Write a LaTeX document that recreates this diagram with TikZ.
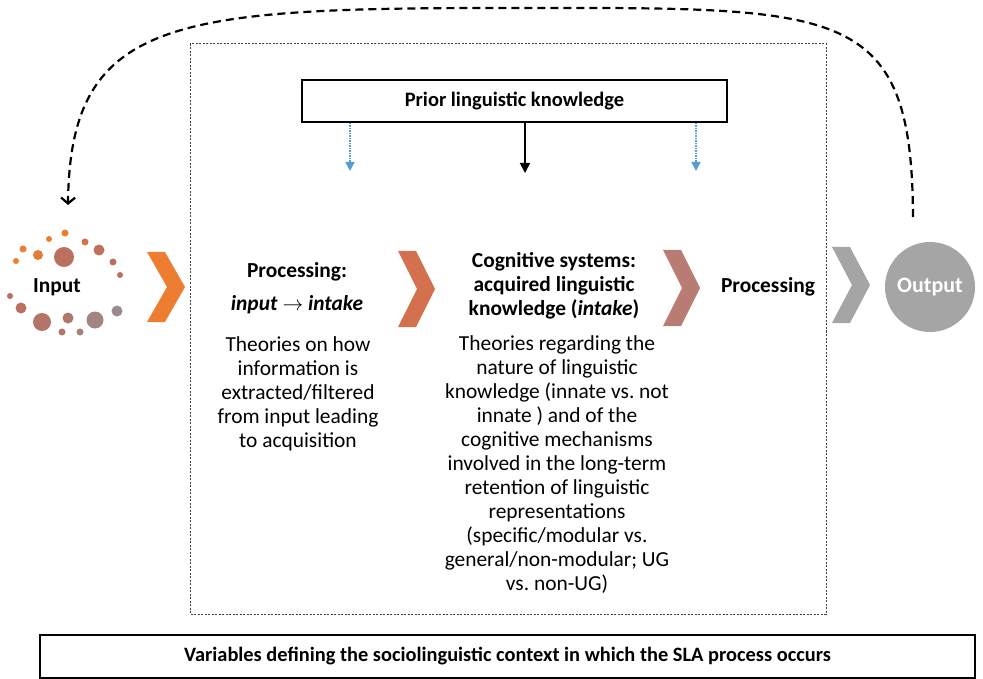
\documentclass[tikz,border=0pt]{standalone}
\usepackage{fontspec}
\setmainfont{Carlito}
\usetikzlibrary{arrows.meta}
\definecolor{inorange}{HTML}{ED7D31}
\definecolor{chevtwo}{HTML}{D3714F}
\definecolor{chevthree}{HTML}{B87C74}
\definecolor{chevgray}{HTML}{A5A5A5}
\definecolor{dotbrown}{HTML}{B9705F}
\definecolor{dotmauve}{HTML}{A08585}
\definecolor{dotgray}{HTML}{9C8A8C}
\definecolor{bluearrow}{HTML}{5B9BD5}
\newcommand\mychev[5]{\fill[#5] (#1,#3) -- (#1+18,#3) -- (#2,{(#3+#4)/2}) -- (#1+18,#4) -- (#1,#4) -- (#2-18,{(#3+#4)/2}) -- cycle;}
\frenchspacing
\begin{document}
\begin{tikzpicture}[x=1pt,y=-1pt,
  bodytext/.style={font=\fontsize{21.4}{24}\selectfont, align=center, inner sep=0pt},
  titletext/.style={font=\fontsize{21.4}{24}\selectfont\bfseries, align=center, inner sep=0pt},
  framebox/.style={draw=black, line width=1.6pt, inner sep=0pt},
  bluearr/.style={draw=bluearrow, line width=1.5pt, dash pattern=on 1.5pt off 1pt, -{Triangle[length=9pt,width=9pt,fill=bluearrow]}},
  blackarr/.style={draw=black, line width=1.8pt, -{Triangle[length=10pt,width=10pt]}},
  feedback/.style={draw=black, line width=2.2pt, dash pattern=on 8pt off 5pt, -{Straight Barb[length=6pt,width=14pt]}}
]
\useasboundingbox (0,0) rectangle (983,679);

% dotted outer frame
\draw[black!75, line width=1pt, dash pattern=on 2pt off 1.5pt] (190,44) rectangle (826,614);

% prior knowledge box
\node[framebox, minimum width=425pt, minimum height=42pt, font=\fontsize{20.5}{24}\selectfont\bfseries] (prior) at (514.5,101) {Prior linguistic knowledge};
\coordinate (bl) at (350,171);
\coordinate (br) at (696,171);
\coordinate (bk) at (525,173);
\draw[bluearr] (prior.south -| bl) -- (bl);
\draw[bluearr] (prior.south -| br) -- (br);
\draw[blackarr] (prior.south -| bk) -- (bk);

% input dots
\fill[inorange] (65,233) circle (3.5pt);
\fill[inorange] (49,239) circle (3pt);
\fill[chevtwo] (85,242) circle (3.5pt);
\fill[inorange] (23,249) circle (3.5pt);
\fill[inorange!85!dotbrown] (38,255) circle (5pt);
\fill[dotbrown] (64,257) circle (10pt);
\fill[dotbrown!90!inorange] (99,250) circle (5.5pt);
\fill[inorange] (16,261) circle (3pt);
\fill[dotbrown] (113,262) circle (3.5pt);
\fill[dotbrown] (120,275) circle (3pt);
\fill[dotbrown] (10,296) circle (3pt);
\fill[dotbrown] (21,308) circle (5.5pt);
\fill[dotbrown!80!dotgray] (42,322) circle (9pt);
\fill[dotbrown!70!dotgray] (68,318) circle (5.5pt);
\fill[dotgray!80!dotbrown] (95,320) circle (8.5pt);
\fill[dotgray] (117,311) circle (5.5pt);
\fill[dotbrown!80!dotgray] (62,332) circle (3.5pt);
\fill[dotgray!60!dotbrown] (80,332) circle (3.5pt);
\node[titletext] (input) at (57,287) {Input};

% chevrons
\mychev{147}{185}{252}{322}{inorange}
\mychev{398}{435}{251}{327}{chevtwo}
\mychev{663}{700}{250}{326}{chevthree}
\mychev{832}{870}{247}{323}{chevgray}

% output
\node[circle, fill=chevgray, minimum size=90pt, inner sep=0pt, text=white, font=\fontsize{22}{24}\selectfont\bfseries] (output) at (930,287) {Output};

% processing column
\node[titletext] (proctitle) at (297,272) {Processing:};
\node[titletext] (procio) at (297,305) {\textit{input} $\rightarrow$ \textit{intake}};
\node[bodytext] (procbody) at (298,394) {Theories on how\\information is\\extracted/filtered\\from input leading\\to acquisition};

% cognitive column
\node[titletext] (cogtitle) at (554,286) {Cognitive systems:\\acquired linguistic\\knowledge (\textit{intake})};
\node[bodytext] (cogbody) at (557,465) {Theories regarding the\\nature of linguistic\\knowledge (innate vs. not\\innate ) and of the\\cognitive mechanisms\\involved in the long-term\\retention of linguistic\\representations\\(specific/modular vs.\\general/non-modular; UG\\vs. non-UG)};

% second processing
\node[titletext] (proc2) at (768,287) {Processing};

% feedback arc
\coordinate (fbstart) at (913,217);
\coordinate (fbtop) at (500,8);
\coordinate (fbend) at (68,205);
\draw[feedback] (fbstart) .. controls (912,0) and (840,8) .. (fbtop) .. controls (170,8) and (70,20) .. (fbend);

% bottom context box
\node[framebox, minimum width=935pt, minimum height=43pt, font=\fontsize{20.4}{24}\selectfont\bfseries] (context) at (507.5,656.5) {Variables defining the sociolinguistic context in which the SLA process occurs};
\end{tikzpicture}
\end{document}
